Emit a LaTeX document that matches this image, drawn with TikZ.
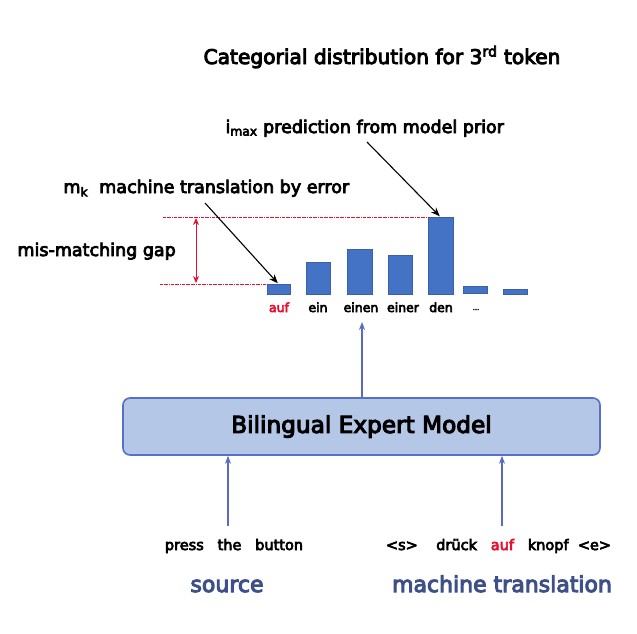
\documentclass[tikz,border=0pt]{standalone}
\usepackage{fontspec}
\setmainfont{DejaVu Sans}[FakeBold=4.5]
\usetikzlibrary{arrows.meta}
\definecolor{barblue}{HTML}{4472C4}
\definecolor{boxfill}{HTML}{B4C7E7}
\definecolor{boxdraw}{HTML}{5670C8}
\definecolor{arrblue}{HTML}{5A6AC4}
\definecolor{myred}{HTML}{E8102E}
\definecolor{labblue}{HTML}{3D5088}
\tikzset{
  bar/.style={fill=barblue, draw=barblue!85!black, line width=0.4pt},
  lab/.style={font=\fontsize{12.5}{13}\selectfont, anchor=base},
  ann/.style={font=\fontsize{17.5}{18}\selectfont, anchor=base west},
  blk/.style={-{Stealth[length=9pt,width=7pt]}, line width=1.1pt},
  blu/.style={-{Stealth[length=8pt,width=6pt]}, draw=arrblue, line width=1.5pt},
  gapline/.style={draw=myred, densely dash dot, line width=0.7pt},
  word/.style={font=\fontsize{14.5}{15}\selectfont, anchor=base},
  big/.style={font=\fontsize{22}{22}\selectfont, text=labblue, anchor=base}
}
\begin{document}
\begin{tikzpicture}[x=1pt,y=-1pt]
\useasboundingbox (0,0) rectangle (637,634);
% title
\node[font=\fontsize{20.2}{20}\selectfont, anchor=base] (title) at (382,64) {Categorial distribution for 3\textsuperscript{rd} token};
% annotations
\node[ann] (imax) at (222,133) {i\textsubscript{max} prediction from model prior};
\node[ann] (mk) at (60,193) {m\textsubscript{k}\ \ machine translation by error};
\node[ann] (gap) at (14,256) {mis-matching gap};
% bars
\path[bar] (267,284) rectangle (290,294);
\node[inner sep=0] (bar1) at (278.5,284) {};
\path[bar] (306,262) rectangle (330,294);
\path[bar] (347,249) rectangle (372,294);
\path[bar] (388,255) rectangle (412,294);
\path[bar] (428,217) rectangle (453,294);
\node[inner sep=0] (bar5) at (440.5,217) {};
\path[bar] (463,286) rectangle (487,293);
\path[bar] (503,289.5) rectangle (527,294);
% bar labels
\node[lab, text=myred] (l1) at (279,312) {auf};
\node[lab] (l2) at (318,312) {ein};
\node[lab] (l3) at (361,312) {einen};
\node[lab] (l4) at (403,312) {einer};
\node[lab] (l5) at (441,312) {den};
\node[lab, font=\fontsize{7}{9}\selectfont] (l6) at (476,310) {...};
% gap lines
\coordinate (gt1) at (163,217);
\coordinate (gt2) at (430,217);
\coordinate (gb1) at (160,284);
\coordinate (gb2) at (267,284);
\draw[gapline] (gt1) -- (gt2);
\draw[gapline] (gb1) -- (gb2);
\coordinate (ga) at (196,218);
\coordinate (gb) at (196,283);
\draw[myred, line width=0.9pt, {Stealth[length=7pt,width=6pt]}-{Stealth[length=7pt,width=6pt]}] (ga) -- (gb);
% black arrows
\coordinate (mkstart) at (205,203);
\coordinate (imstart) at (367,142);
\draw[blk] (mkstart) -- (bar1);
\draw[blk] (imstart) -- (bar5);
% box
\node[draw=boxdraw, fill=boxfill, line width=1.6pt, rounded corners=7pt, minimum width=477pt, minimum height=57pt, font=\fontsize{23.2}{22}\selectfont] (bem) at (361.5,426.5) {Bilingual Expert Model};
\coordinate (outtop) at (362,322);
\draw[blu] (bem.north -| outtop) -- (outtop);
% inputs
\node[word] (src) at (234,550) {press\ \ \ the\ \ \ button};
\node[word] (tgt) at (498.5,550) {<s>\ \ \ \ drück\ \ \ \textcolor{myred}{auf}\ \ \ knopf\ \ <e>};
\coordinate (s1) at (228,526);
\coordinate (s2) at (502,526);
\draw[blu] (s1) -- (s1 |- bem.south);
\draw[blu] (s2) -- (s2 |- bem.south);
\node[big] (source) at (227,592) {source};
\node[big] (mt) at (502,592) {machine translation};
\end{tikzpicture}
\end{document}
